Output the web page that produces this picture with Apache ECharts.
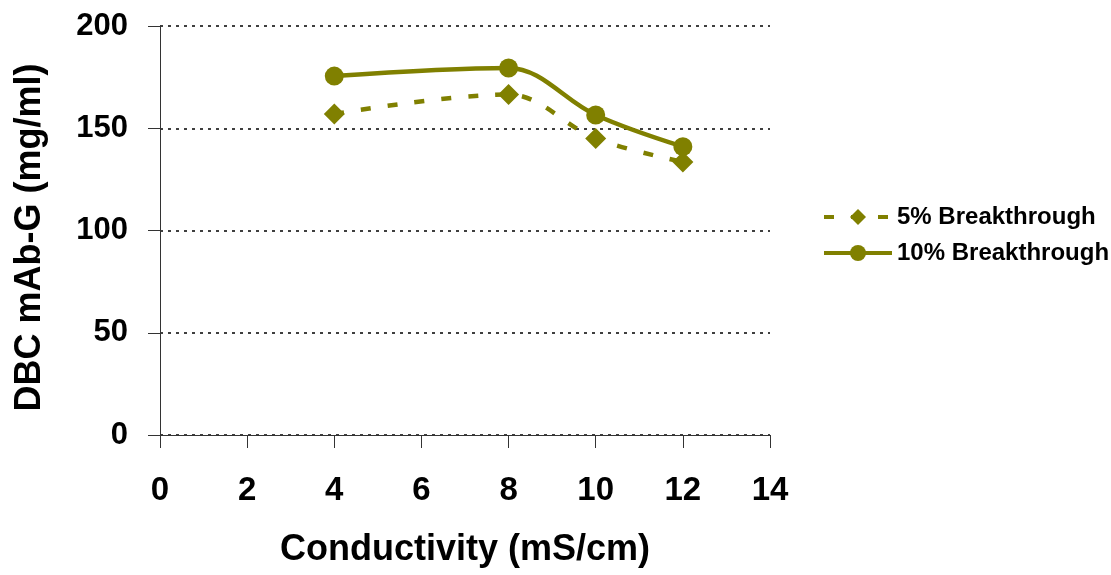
<!DOCTYPE html>
<html>
<head>
<meta charset="utf-8">
<script src="https://cdn.jsdelivr.net/npm/echarts@6/dist/echarts.min.js"></script>
<style>html,body{margin:0;padding:0;background:#fff}#c{width:1111px;height:575px}</style>
</head>
<body>
<div id="c"></div>
<script>
const conductivity = [4, 8, 10, 12];
const breakthrough5 = [157, 166.5, 145, 133.5];
const breakthrough10 = [175.5, 179.5, 156.5, 141];
const seriesNames = ['5% Breakthrough', '10% Breakthrough'];
const xTitle = 'Conductivity (mS/cm)';
const yTitle = 'DBC mAb-G (mg/ml)';

const FONT = 'Liberation Sans, Arial, sans-serif';
const OLIVE = '#808000';
const chart = echarts.init(document.getElementById('c'), null, {renderer: 'canvas'});
chart.setOption({
  animation: false,
  backgroundColor: '#fff',
  grid: {left: 160, right: 341, top: 26, bottom: 140, containLabel: false},
  legend: {
    orient: 'vertical', left: 817, top: 200, itemGap: 12,
    itemWidth: 68, itemHeight: 20,
    lineStyle: {width: 4},
    textStyle: {fontFamily: FONT, fontSize: 24, fontWeight: 'bold', color: '#000'},
    data: seriesNames
  },
  xAxis: {
    type: 'value', min: 0, max: 14, interval: 2,
    name: xTitle, nameLocation: 'middle', nameGap: 97,
    nameTextStyle: {fontFamily: FONT, fontSize: 36, fontWeight: 'bold', color: '#000'},
    axisLine: {lineStyle: {color: '#333', width: 1}},
    axisTick: {show: true, length: 13, lineStyle: {color: '#333'}},
    axisLabel: {fontFamily: FONT, fontSize: 33, fontWeight: 'bold', color: '#000', margin: 39},
    splitLine: {show: false}
  },
  yAxis: {
    type: 'value', min: 0, max: 200, interval: 50,
    name: yTitle, nameLocation: 'middle', nameGap: 112, nameRotate: 90,
    nameTextStyle: {fontFamily: FONT, fontSize: 36, fontWeight: 'bold', color: '#000', padding: [0, 14, 0, 0]},
    axisLine: {show: true, lineStyle: {color: '#333', width: 1}},
    axisTick: {show: true, length: 12, lineStyle: {color: '#333'}},
    axisLabel: {fontFamily: FONT, fontSize: 31, fontWeight: 'bold', color: '#000', margin: 32},
    splitLine: {show: true, lineStyle: {color: '#000', type: [3, 5], width: 1.5}}
  },
  series: [
    {
      name: seriesNames[0], type: 'line', smooth: 0.35,
      data: conductivity.map((x, i) => [x, breakthrough5[i]]),
      symbol: 'diamond', symbolSize: 21,
      itemStyle: {color: OLIVE},
      lineStyle: {color: OLIVE, width: 4.5, type: [10, 17]}
    },
    {
      name: seriesNames[1], type: 'line', smooth: 0.35,
      data: conductivity.map((x, i) => [x, breakthrough10[i]]),
      symbol: 'circle', symbolSize: 19,
      itemStyle: {color: OLIVE},
      lineStyle: {color: OLIVE, width: 4.5}
    }
  ]
});
</script>
</body>
</html>
